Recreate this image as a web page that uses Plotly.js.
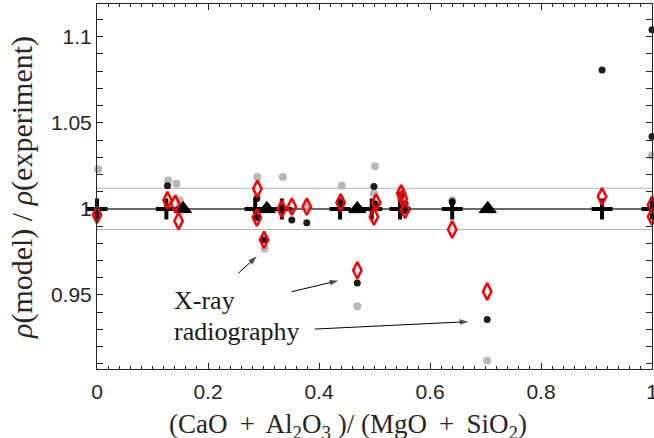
<!DOCTYPE html>
<html>
<head>
<meta charset="utf-8">
<script src="https://cdn.plot.ly/plotly-3.0.1.min.js"></script>
<style>html,body{margin:0;padding:0;background:#fff;}#chart{width:654px;height:438px;}</style>
</head>
<body>
<div id="chart"></div>
<script>
// ---- data ----
const xTickVals = [0, 0.2, 0.4, 0.6, 0.8, 1];
const xTickText = ["0", "0.2", "0.4", "0.6", "0.8", "1"];
const yTickVals = [0.95, 1, 1.05, 1.1];
const yTickText = ["0.95", "1", "1.05", "1.1"];

const refX = [0, 1];
const refCentre = [1, 1];
const refUpper = [1.012, 1.012];
const refLower = [0.988, 0.988];

// grey circles
const greyX = [0.002, 0.128, 0.143, 0.149, 0.289, 0.335, 0.302, 0.378, 0.441, 0.501, 0.499, 0.548, 0.640, 0.469, 0.703, 1.000];
const greyY = [1.023, 1.0165, 1.0146, 1.005, 1.0185, 1.0185, 0.977, 1.002, 1.0135, 1.0247, 1.009, 1.011, 1.005, 0.9435, 0.912, 1.031];

// black circles
const blackX = [0.000, 0.127, 0.147, 0.288, 0.288, 0.301, 0.333, 0.351, 0.378, 0.439, 0.499, 0.501, 0.548, 0.555, 0.555, 0.640, 0.469, 0.703, 0.910, 1.000, 1.000];
const blackY = [0.998, 1.0135, 1.000, 1.006, 0.995, 0.982, 1.000, 0.9936, 0.992, 1.0037, 1.013, 1.003, 1.008, 1.003, 0.999, 1.004, 0.957, 0.9357, 1.0807, 1.104, 1.042];

// black plus signs
const plusX = [0.000, 0.125, 0.285, 0.333, 0.438, 0.495, 0.546, 0.640, 0.910, 1.000];
const plusY = [1.000, 1.000, 1.000, 1.000, 1.000, 1.000, 1.000, 1.000, 1.000, 1.000];

// black triangles
const triX = [0.155, 0.306, 0.469, 0.704];
const triY = [1.000, 1.000, 1.000, 1.000];

// red open diamonds
const diaX = [0.000, 0.127, 0.141, 0.147, 0.289, 0.288, 0.301, 0.333, 0.351, 0.378, 0.439, 0.503, 0.499, 0.548, 0.551, 0.555, 0.640, 0.469, 0.703, 0.910, 1.000, 1.000];
const diaY = [0.9965, 1.005, 1.003, 0.993, 1.0117, 0.995, 0.982, 1.000, 1.0013, 1.0013, 1.0037, 1.0037, 0.9955, 1.009, 1.006, 0.9994, 0.988, 0.9643, 0.952, 1.0072, 1.0023, 0.9955];

// ---- traces ----
const traces = [
  {x: refX, y: refUpper, mode: 'lines', line: {color: '#b4b4b4', width: 1}, hoverinfo: 'skip'},
  {x: refX, y: refLower, mode: 'lines', line: {color: '#b4b4b4', width: 1}, hoverinfo: 'skip'},
  {x: refX, y: refCentre, mode: 'lines', line: {color: '#3a3a3a', width: 1.5}, hoverinfo: 'skip'},
  {x: greyX, y: greyY, mode: 'markers', cliponaxis: false,
   marker: {symbol: 'circle', size: 8, color: '#b8b8b8', line: {width: 0}}},
  {x: blackX, y: blackY, mode: 'markers', cliponaxis: false,
   marker: {symbol: 'circle', size: 7, color: '#1c1c1c', line: {width: 0}}},
  {x: plusX, y: plusY, mode: 'markers', cliponaxis: false,
   marker: {symbol: 'cross-thin-open', size: 15, color: '#000', line: {width: 4, color: '#000'}}},
  {x: triX, y: triY, mode: 'markers', cliponaxis: false,
   marker: {symbol: 'triangle-up', size: 15, color: '#000', line: {width: 1, color: '#000'}}},
  {x: diaX, y: diaY, mode: 'markers', cliponaxis: false,
   marker: {symbol: 'diamond-tall-open', size: 12, color: '#ff0000', line: {width: 2.5, color: '#ff0000'}}},
  // carrier for the tick-label axis (draws nothing)
  {x: refX, y: refCentre, xaxis: 'x2', mode: 'none', hoverinfo: 'skip'}
];

// annotation arrows (tail -> head), drawn as line segments with an arrow marker at the head
const arrowSegs = [
  [[0.2546, 0.9626], [0.2877, 0.9723]],
  [[0.3508, 0.9519], [0.4348, 0.9583]],
  [[0.3928, 0.9302], [0.6690, 0.9345]]
];
arrowSegs.forEach(function (seg) {
  traces.push({
    x: [seg[0][0], seg[1][0]], y: [seg[0][1], seg[1][1]],
    mode: 'lines+markers', cliponaxis: false, hoverinfo: 'skip',
    line: {color: '#000', width: 1},
    marker: {symbol: ['circle', 'arrow'], size: [0, 9], color: '#000', angleref: 'previous', line: {width: 0}}
  });
});

const tickFont = {family: 'Liberation Sans, Arial, sans-serif', size: 21, color: '#262626'};
const axisCommon = {
  showline: true, linecolor: '#262626', linewidth: 1, mirror: 'allticks',
  ticks: 'inside', ticklen: 6, tickwidth: 1, tickcolor: '#262626',
  showgrid: false, zeroline: false, tickfont: tickFont
};

const serif = 'Liberation Serif, Times New Roman, serif';
const tsp = '\u2009';

const layout = {
  width: 654, height: 438,
  margin: {l: 97, r: 2, t: 4, b: 61},
  paper_bgcolor: '#fff', plot_bgcolor: '#fff',
  showlegend: false,
  xaxis: Object.assign({}, axisCommon, {
    range: [0, 1], tickmode: 'array', tickvals: xTickVals, ticktext: xTickText,
    showticklabels: false, anchor: 'y',
    minor: {tickmode: 'linear', tick0: 0, dtick: 0.02, ticks: 'inside', ticklen: 3, tickcolor: '#262626', showgrid: false}
  }),
  xaxis2: {
    overlaying: 'x', anchor: 'free', position: 0, side: 'bottom', range: [0, 1],
    tickmode: 'array', tickvals: xTickVals, ticktext: xTickText,
    ticks: '', showline: false, showgrid: false, zeroline: false,
    ticklabeloverflow: 'allow', tickfont: tickFont
  },
  yaxis: Object.assign({}, axisCommon, {
    domain: [0.02145, 1],
    range: [0.907, 1.119], tickmode: 'array', tickvals: yTickVals, ticktext: yTickText,
    minor: {tickmode: 'linear', tick0: 0.9, dtick: 0.01, ticks: 'inside', ticklen: 3, tickcolor: '#262626', showgrid: false}
  }),
  annotations: [
    {xref: 'paper', yref: 'paper', x: 0.4514, y: -0.1314, xanchor: 'center', yanchor: 'middle', showarrow: false,
     text: '(CaO ' + tsp + '+' + tsp + ' Al<sub>2</sub>O<sub>3</sub> )/ (MgO ' + tsp + '+' + tsp + ' SiO<sub>2</sub>)',
     font: {family: serif, size: 27, color: '#262626'}},
    {xref: 'paper', yref: 'paper', x: -0.1351, y: 0.5067, xanchor: 'center', yanchor: 'middle', showarrow: false,
     textangle: -90,
     text: '<i>ρ</i>(model) / <i>ρ</i>(experiment)',
     font: {family: serif, size: 30, color: '#262626'}},
    {xref: 'x', yref: 'y', x: 0.135, y: 0.947, xanchor: 'left', yanchor: 'middle', showarrow: false,
     text: 'X-ray', font: {family: serif, size: 26, color: '#1a1a1a'}},
    {xref: 'x', yref: 'y', x: 0.135, y: 0.929, xanchor: 'left', yanchor: 'middle', showarrow: false,
     text: 'radiography', font: {family: serif, size: 26, color: '#1a1a1a'}}
  ]
};

Plotly.newPlot('chart', traces, layout, {displayModeBar: false, staticPlot: true});
</script>
</body>
</html>
